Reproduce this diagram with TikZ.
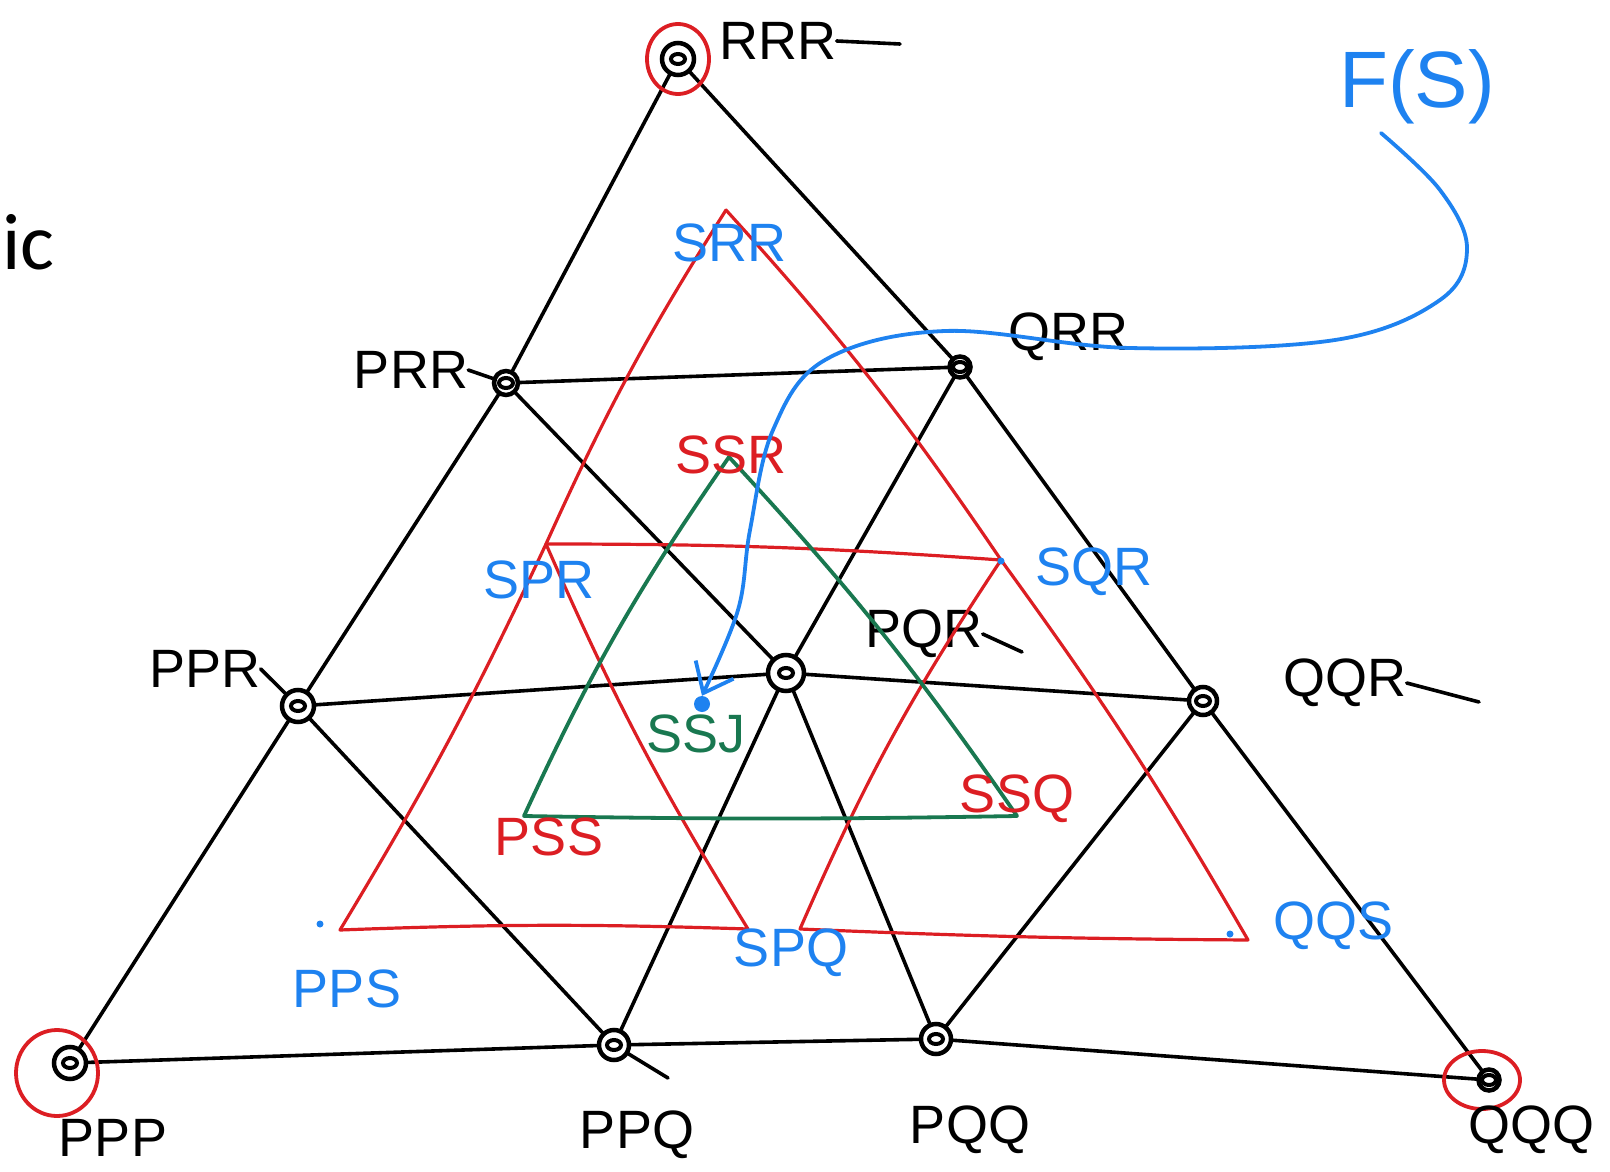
\documentclass[tikz,border=0pt]{standalone}
\usepackage{fontspec}
\setmainfont{Liberation Sans}
\newfontfamily\icfont{Carlito}
\usetikzlibrary{arrows.meta,shapes.geometric}
\definecolor{inkred}{RGB}{220,30,35}
\definecolor{inkblue}{RGB}{30,130,240}
\definecolor{inkgreen}{RGB}{25,120,80}
\begin{document}
\begin{tikzpicture}[x=1pt,y=-1pt,
  blk/.style={line width=3.6pt,black,line cap=round},
  redl/.style={line width=3.2pt,inkred,line cap=round,line join=round},
  grnl/.style={line width=3.8pt,inkgreen,line cap=round,line join=round},
  blul/.style={line width=3.8pt,inkblue,line cap=round},
  vtx/.style={circle,draw=black,fill=white,line width=4.5pt,minimum size=26pt,inner sep=0pt,
    path picture={\draw[line width=4pt] (path picture bounding box.center) ellipse (7pt and 5pt);}},
  lab/.style={font=\fontsize{54}{60}\selectfont,inner sep=0pt},
  blab/.style={lab,text=inkblue},
  rlab/.style={lab,text=inkred},
  glab/.style={lab,text=inkgreen},
  rcirc/.style={draw=inkred,line width=3.8pt,ellipse,inner sep=0pt},
  bdot/.style={circle,fill=inkblue,inner sep=0pt}
]
\useasboundingbox (0,0) rectangle (1610,1172);

% ---- lattice vertex positions
\coordinate (pRRR) at (678,59);
\coordinate (pPRR) at (506,383);
\coordinate (pQRR) at (960,367);
\coordinate (pPPR) at (298,706);
\coordinate (pPQR) at (786,673);
\coordinate (pQQR) at (1203,701);
\coordinate (pPPP) at (70,1063);
\coordinate (pPPQ) at (614,1045);
\coordinate (pPQQ) at (936,1039);
\coordinate (pQQQ) at (1489,1080);

% ---- black lattice lines
\draw[blk] (pRRR) -- (pPRR) -- (pPPR) -- (pPPP);
\draw[blk] (pRRR) -- (pQRR) -- (pQQR) -- (pQQQ);
\draw[blk] (pPPP) -- (pPPQ) -- (pPQQ) -- (pQQQ);
\draw[blk] (pPRR) -- (pQRR);
\draw[blk] (pPPR) -- (pPQR) -- (pQQR);
\draw[blk] (pPRR) -- (pPQR) -- (pPQQ);
\draw[blk] (pQRR) -- (pPQR) -- (pPPQ);
\coordinate (ePPQ) at (668,1078);
\draw[blk] (pPPR) -- (pPPQ) -- (ePPQ);
\draw[blk] (pQQR) -- (pPQQ);

% ---- lattice vertices
\node[vtx,minimum size=32pt] (RRR) at (pRRR) {};
\node[vtx,minimum size=24pt] (PRR) at (pPRR) {};
\node[vtx,minimum size=21pt] (QRR) at (pQRR) {};
\node[vtx,minimum size=32pt] (PPR) at (pPPR) {};
\node[vtx,minimum size=36pt] (PQR) at (pPQR) {};
\node[vtx,minimum size=28pt] (QQR) at (pQQR) {};
\node[vtx,minimum size=32pt] (PPP) at (pPPP) {};
\node[vtx,minimum size=30pt] (PPQ) at (pPPQ) {};
\node[vtx,minimum size=30pt] (PQQ) at (pPQQ) {};
\node[vtx,minimum size=21pt] (QQQ) at (pQQQ) {};

% ---- red circles on corners
\node[rcirc,minimum width=62pt,minimum height=70pt] (cRRR) at (678,59) {};
\node[rcirc,minimum width=82pt,minimum height=86pt] (cPPP) at (57,1073) {};
\node[rcirc,minimum width=76pt,minimum height=58pt] (cQQQ) at (1482,1080) {};

% ---- black labels
\node[lab] (tRRR) at (778,41) {RRR};
\coordinate (eRRR) at (900,44);
\draw[blk] (tRRR.east) -- (eRRR);
\node[lab] (tPRR) at (411,370) {PRR};
\draw[blk] (tPRR.east) -- (PRR);
\node[lab] (tQRR) at (1068,337) {QRR};
\node[lab] (tPPR) at (205,669) {PPR};
\draw[blk] (tPPR.east) -- (PPR);
\node[lab] (tPQR) at (924,634) {PQR};
\coordinate (ePQR) at (1022,652);
\draw[blk] (tPQR.east) -- (ePQR);
\node[lab] (tQQR) at (1345,683) {QQR};
\coordinate (eQQR) at (1479,702);
\draw[blk] (tQQR.east) -- (eQQR);
\node[lab] (tPPP) at (113,1138) {PPP};
\node[lab] (tPPQ) at (637,1135) {PPQ};
\node[lab] (tPQQ) at (970,1130) {PQQ};
\node[lab,anchor=west] (tQQQ) at (1468,1130) {QQQ};

% ---- red triangles
\coordinate (rSRR) at (726,210);
\coordinate (rSPR) at (546,544);
\coordinate (rSQR) at (1001,560);
\coordinate (rPPS) at (340,930);
\coordinate (rSPQa) at (748,929);
\coordinate (rSPQb) at (800,929);
\coordinate (rQQS) at (1248,940);
\draw[redl] (rSRR) to[bend right=4] (rSPR) to[bend left=3] (rPPS) to[bend left=2] (rSPQa) to[bend left=4] (rSPR);
\draw[redl] (rSPR) to[bend left=2] (rSQR) to[bend left=3] (rQQS) to[bend left=1] (rSPQb) to[bend left=5] (rSQR);
\draw[redl] (rSRR) to[bend left=4] (rSQR);

% ---- green triangle
\coordinate (gSSR) at (729,457);
\coordinate (gPSS) at (524,816);
\coordinate (gSSQ) at (1017,816);
\draw[grnl] (gSSR) to[bend right=5] (gPSS) to[bend right=1] (gSSQ) to[bend right=4] (gSSR);

% ---- blue dots
\node[bdot,minimum size=16pt] (SSJdot) at (702,704) {};
\node[bdot,minimum size=7pt] (d1) at (320,924) {};
\node[bdot,minimum size=7pt] (d2) at (1230,934) {};
\node[bdot,minimum size=7pt] (d3) at (1001,561) {};

% ---- coloured labels
\node[blab,font=\fontsize{80}{86}\selectfont] (FS) at (1417,87) {F(S)};
\node[blab] (tSRR) at (729,243) {SRR};
\node[rlab] (tSSR) at (731,455) {SSR};
\node[blab] (tSPR) at (539,580) {SPR};
\node[blab] (tSQR) at (1094,572) {SQR};
\node[glab] (tSSJ) at (696,734) {SSJ};
\node[rlab] (tPSS) at (549,837) {PSS};
\node[rlab] (tSSQ) at (1017,799) {SSQ};
\node[blab] (tSPQ) at (791,953) {SPQ};
\node[blab] (tQQS) at (1333,926) {QQS};
\node[blab] (tPPS) at (347,989) {PPS};

% ---- blue arrow from F(S) to the dot
\coordinate (fsStart) at (1381,133);
\draw[blul,-{Straight Barb[length=26pt,width=42pt,line width=3.8pt]}]
  plot[smooth,tension=0.6] coordinates {(fsStart) (1440,190) (1467,248) (1440,300) (1335,340) (1130,348) (945,331) (825,360) (773,430) (750,530) (738,610) (SSJdot.north)};

% ---- "ic"
\node[anchor=base west,inner sep=0pt,font=\icfont\fontsize{80}{86}\selectfont] (ic) at (2,269) {ic};
\end{tikzpicture}
\end{document}
